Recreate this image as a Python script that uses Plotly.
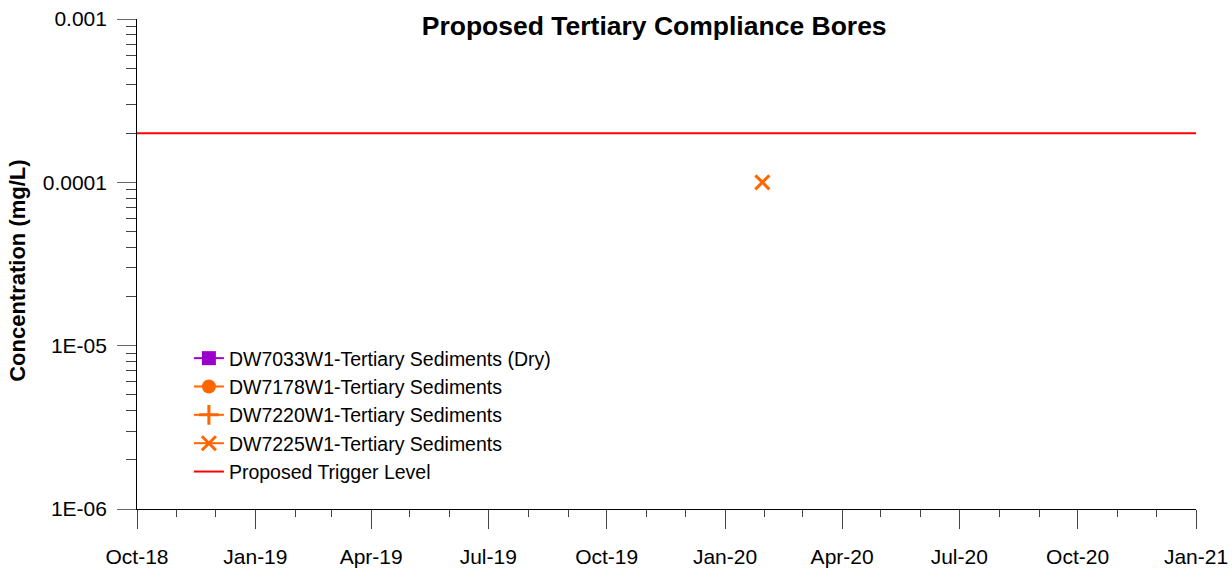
import plotly.graph_objects as go

# Series definitions
bores = [
    "DW7033W1-Tertiary Sediments (Dry)",
    "DW7178W1-Tertiary Sediments",
    "DW7220W1-Tertiary Sediments",
    "DW7225W1-Tertiary Sediments",
]
bore_colors = ["#9900CC", "#FF6600", "#FF6600", "#FF6600"]
bore_symbols = ["square", "circle", "cross-thin", "x-thin"]
bore_dates = [[None], [None], [None], ["2020-01-30"]]
bore_values = [[None], [None], [None], [0.0001]]

trigger_name = "Proposed Trigger Level"
trigger_dates = ["2018-10-01", "2021-01-01"]
trigger_values = [0.0002, 0.0002]

y_major = [1e-6, 1e-5, 1e-4, 1e-3]
y_major_text = ["1E-06", "1E-05", "0.0001", "0.001"]
y_minor = [m * 10 ** e for e in (-6, -5, -4) for m in range(2, 10)]

FONT = "Liberation Sans, Arial, sans-serif"

fig = go.Figure()

for name, col, sym, xs, ys in zip(bores, bore_colors, bore_symbols, bore_dates, bore_values):
    fig.add_trace(go.Scatter(
        x=xs, y=ys, name=name, mode="lines+markers",
        line=dict(color=col, width=2),
        marker=dict(color=col, symbol=sym, size=14,
                    line=dict(color=col, width=3 if "thin" in sym else 0)),
    ))

fig.add_trace(go.Scatter(
    x=trigger_dates, y=trigger_values, name=trigger_name, mode="lines",
    line=dict(color="#FF0000", width=2),
))

fig.update_layout(
    width=1232, height=573,
    margin=dict(l=137, r=36, t=19, b=64, autoexpand=False),
    paper_bgcolor="white", plot_bgcolor="white",
    font=dict(family=FONT, size=21, color="black"),
    title=dict(text="<b>Proposed Tertiary Compliance Bores</b>",
               x=0.531, xanchor="center", y=0.955, yanchor="middle",
               font=dict(size=26.5, family=FONT, color="black")),
    showlegend=True,
    legend=dict(x=0.049, y=0.347, xanchor="left", yanchor="top",
                bgcolor="rgba(0,0,0,0)", font=dict(size=19.5, family=FONT)),
    annotations=[dict(
        text="<b>Concentration (mg/L)</b>", textangle=-90,
        xref="paper", yref="paper", x=-0.1124, y=0.486,
        xanchor="center", yanchor="middle", showarrow=False,
        font=dict(size=22, family=FONT, color="black"),
    )],
)

fig.update_xaxes(
    type="date", range=["2018-10-01", "2021-01-01"], automargin=False,
    tickformat="%b-%y", dtick="M3", tick0="2018-10-01",
    ticks="outside", ticklen=19, tickcolor="#444", tickwidth=1,
    showline=True, linecolor="black", linewidth=1,
    showgrid=False, zeroline=False,
    minor=dict(dtick="M1", tick0="2018-10-01", ticks="outside",
               ticklen=7, tickcolor="#444", showgrid=False),
    tickfont=dict(size=21),
    ticklabelstandoff=10,
)

fig.update_yaxes(
    type="log", range=[-6, -3], automargin=False,
    tickvals=y_major, ticktext=[t + "\u00a0" for t in y_major_text],
    ticks="outside", ticklen=19, tickcolor="#666", tickwidth=1,
    showline=True, linecolor="black", linewidth=1,
    showgrid=False, zeroline=False,
    minor=dict(tickvals=y_minor, ticks="outside", ticklen=10,
               tickcolor="#444", showgrid=False),
    tickfont=dict(size=21),
)

fig.write_html("out.html")
